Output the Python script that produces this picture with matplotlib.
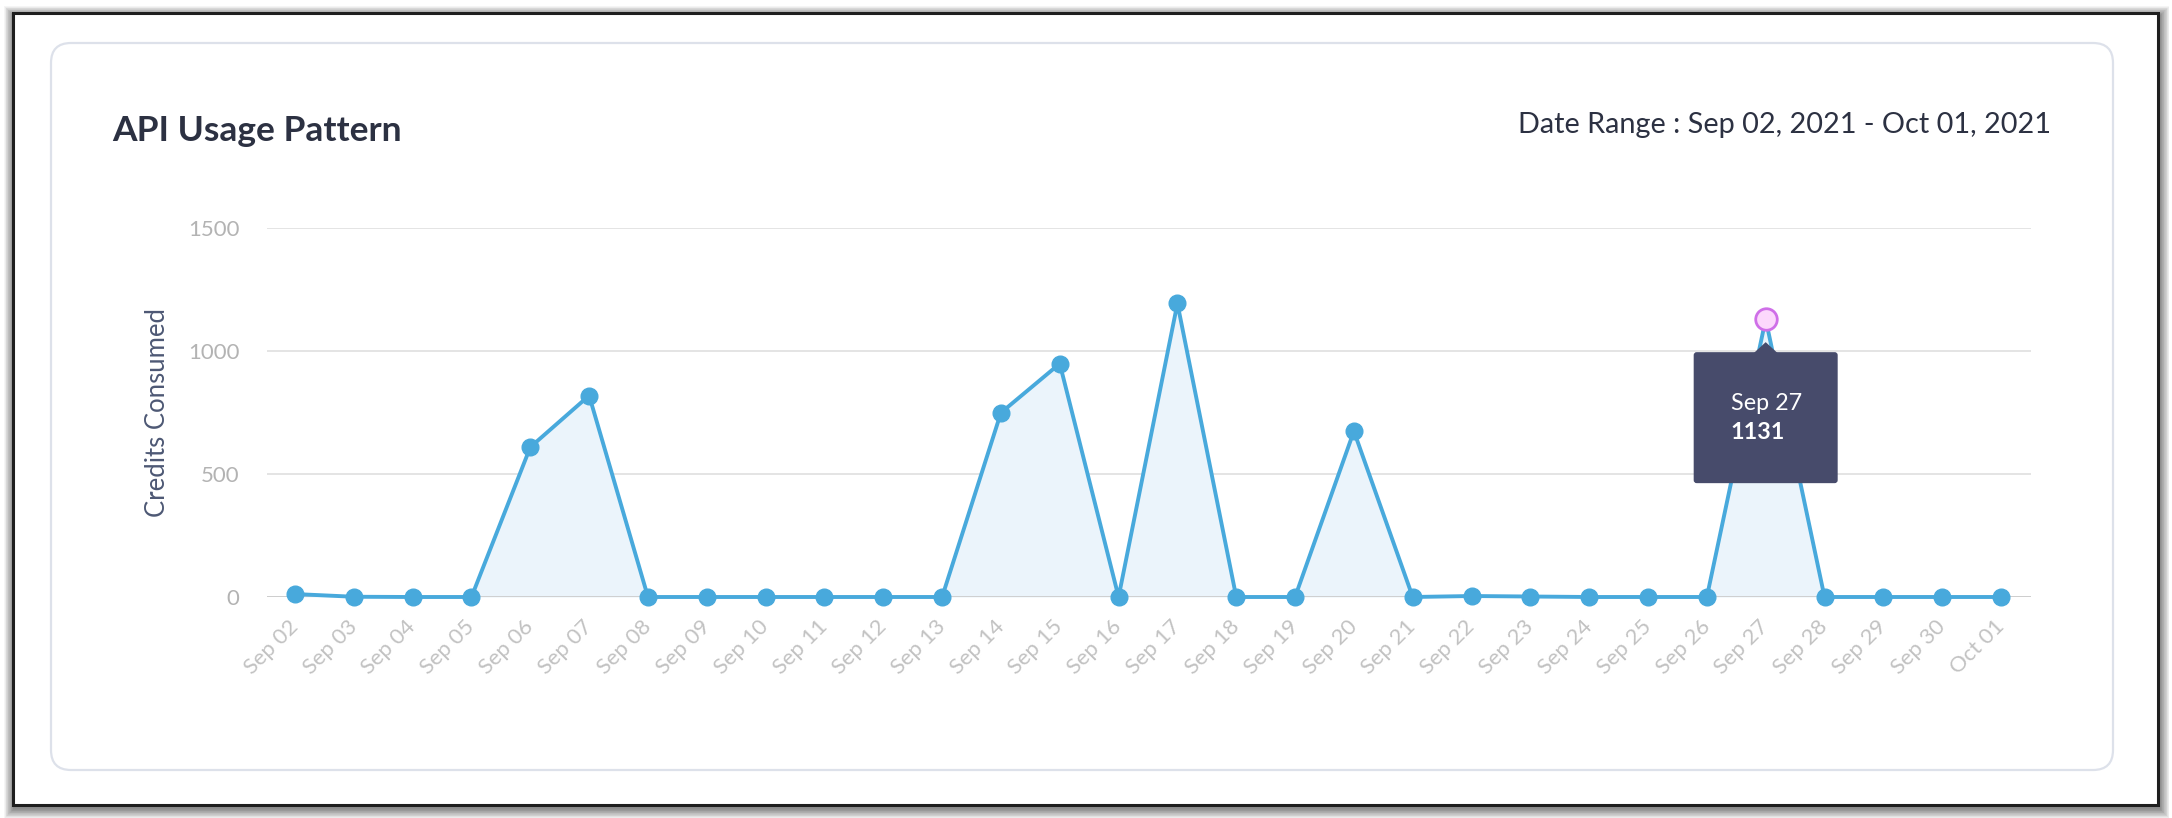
import matplotlib
matplotlib.use('Agg')
import matplotlib.pyplot as plt
from matplotlib.patches import FancyBboxPatch, Rectangle, Polygon

# ---------------- data ----------------
dates = ['Sep 02', 'Sep 03', 'Sep 04', 'Sep 05', 'Sep 06', 'Sep 07', 'Sep 08',
         'Sep 09', 'Sep 10', 'Sep 11', 'Sep 12', 'Sep 13', 'Sep 14', 'Sep 15',
         'Sep 16', 'Sep 17', 'Sep 18', 'Sep 19', 'Sep 20', 'Sep 21', 'Sep 22',
         'Sep 23', 'Sep 24', 'Sep 25', 'Sep 26', 'Sep 27', 'Sep 28', 'Sep 29',
         'Sep 30', 'Oct 01']
credits = [12, 1, 0, 0, 610, 820, 0, 0, 0, 0, 0, 0, 750, 950, 0, 1195, 0, 0,
           675, 0, 4, 2, 0, 0, 0, 1131, 0, 0, 0, 0]
y_ticks = [0, 500, 1000, 1500]
hover_date = 'Sep 27'
title_text = 'API Usage Pattern'
range_text = 'Date Range : Sep 02, 2021 - Oct 01, 2021'
y_label = 'Credits Consumed'

# ---------------- style ----------------
W, H = 2172, 818
plt.rcParams['font.family'] = ['Lato', 'DejaVu Sans']
LINE = '#48a9dc'
FILL = '#ebf4fb'
DARK = '#2c3142'

fig = plt.figure(figsize=(W / 100, H / 100), dpi=100)
fig.patch.set_facecolor('white')

# background / frame layer (pixel coordinates, y downwards)
bg = fig.add_axes([0, 0, 1, 1], zorder=0)
bg.set_xlim(0, W)
bg.set_ylim(H, 0)
bg.axis('off')

fx0, fy0, fx1, fy1 = 12.5, 12.5, 2158, 805
for k in range(14, 0, -1):
    bg.add_patch(Rectangle((fx0 - k * 0.7 + 1.5, fy0 - k * 0.7 + 3.5),
                           (fx1 - fx0) + k * 1.4, (fy1 - fy0) + k * 1.4,
                           facecolor='black', edgecolor='none', alpha=0.04))
bg.add_patch(Rectangle((fx0, fy0), fx1 - fx0, fy1 - fy0, facecolor='white',
                       edgecolor='#1e1e1e', lw=2.2))
bg.add_patch(FancyBboxPatch((51, 43), 2113 - 51, 770 - 43,
                            boxstyle='round,pad=0,rounding_size=20',
                            facecolor='white', edgecolor='#dde1ea', lw=1.6))

bg.text(112, 131, title_text, fontsize=25.5, fontweight='bold', color=DARK,
        ha='left', va='center')
bg.text(2051, 125, range_text, fontsize=20.8, color=DARK, ha='right', va='center')

# ---------------- main chart ----------------
ax = fig.add_axes([267 / W, 1 - 597 / H, (2031 - 267) / W, (597 - 228.5) / H], zorder=1)
ax.patch.set_alpha(0)
x = list(range(len(dates)))
ax.set_xlim(-0.476, len(dates) - 1 + 0.51)
ax.set_ylim(0, 1500)

ax.fill_between(x, credits, 0, color=FILL, lw=0, zorder=1)
ax.plot(x, credits, color=LINE, lw=2.8, zorder=3, clip_on=False,
        marker='o', markersize=12, markerfacecolor=LINE, markeredgecolor=LINE)

hi = dates.index(hover_date)
ax.plot([hi], [credits[hi]], marker='o', markersize=15.5, markerfacecolor='#fcd8fc',
        markeredgecolor='#cf6fe8', markeredgewidth=2.0, zorder=5, clip_on=False,
        linestyle='none')

ax.set_yticks(y_ticks)
ax.set_yticklabels([str(v) for v in y_ticks])
ax.yaxis.grid(True, color='#e4e4e4', lw=1.4, zorder=0)
ax.axhline(0, color='#cccccc', lw=2.0, zorder=2)
ax.set_axisbelow(True)
for s in ax.spines.values():
    s.set_visible(False)
ax.tick_params(axis='y', length=0, pad=20, labelsize=16, labelcolor='#b3b3b3')
ax.set_xticks(x)
ax.set_xticklabels(dates, rotation=45, ha='right', va='center',
                   rotation_mode='anchor')
ax.tick_params(axis='x', length=0, pad=19, labelsize=15.8, labelcolor='#c2c2c2')
ax.set_ylabel(y_label, fontsize=18.5, color='#4d5874')
ax.yaxis.set_label_coords((170 - 267) / (2031 - 267), 0.5)

# ---------------- tooltip ----------------
top = fig.add_axes([0, 0, 1, 1], zorder=6)
top.set_xlim(0, W)
top.set_ylim(H, 0)
top.axis('off')
top.patch.set_alpha(0)
dx, dy = ax.transData.transform((hi, credits[hi]))
px, py = dx, H - dy
bw, bh = 144, 131
bx0, by0 = px - bw / 2, py + 33
TIP = '#474b6b'
top.add_patch(FancyBboxPatch((bx0, by0), bw, bh, boxstyle='round,pad=0,rounding_size=3',
                             facecolor=TIP, edgecolor='none'))
top.add_patch(Polygon([[px - 12, by0 + 1], [px + 12, by0 + 1], [px, by0 - 10]],
                      closed=True, facecolor=TIP, edgecolor='none'))
top.text(bx0 + 37, by0 + 51, hover_date, fontsize=16.8, color='white',
         ha='left', va='center')
top.text(bx0 + 37, by0 + 80, str(credits[hi]), fontsize=16.8, color='white',
         fontweight='bold', ha='left', va='center')

fig.savefig('out.png', dpi=100)
